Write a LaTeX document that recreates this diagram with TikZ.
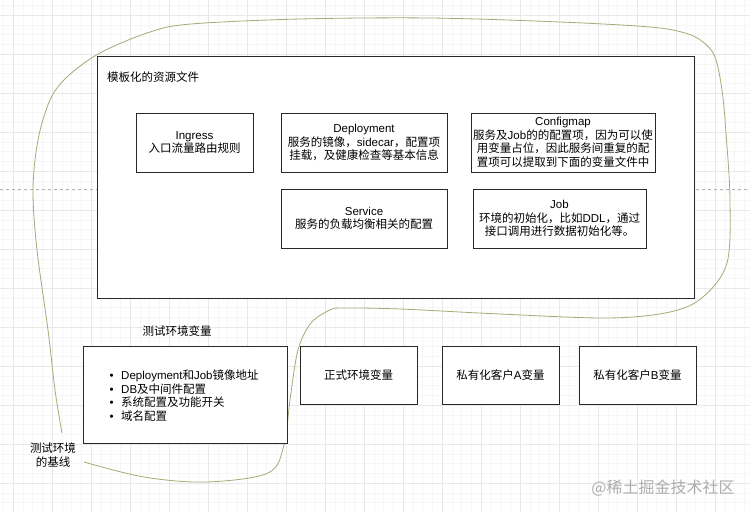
\documentclass[tikz,border=0pt]{standalone}
\usepackage{fontspec}
\setmainfont{Liberation Sans}
\newfontfamily\cjk{Noto Sans CJK SC}
\newcommand\zh[1]{{\cjk #1}}
\definecolor{loopcol}{RGB}{168,168,120}
\definecolor{boxline}{RGB}{40,40,40}
\begin{document}
\begin{tikzpicture}[x=1pt,y=-1pt,
  box/.style={draw=boxline, line width=1pt, fill=white, inner sep=0pt,
    font=\fontsize{11.5}{13.5}\selectfont, align=center},
  txt/.style={font=\fontsize{11.5}{13.5}\selectfont, align=center, inner sep=0pt},
  gridmajor/.style={draw=black!9, line width=0.5pt},
  gridminor/.style={draw=black!3.5, line width=0.4pt},
  pagebreak/.style={draw=black!30, line width=0.6pt, dash pattern=on 3pt off 3pt},
  loopline/.style={draw=loopcol, line width=0.8pt}]
\useasboundingbox (0,0) rectangle (750,512);
\fill[white] (0,0) rectangle (750,512);
% background grid
\foreach \x in {3.25,13,...,750} \draw[gridminor] (\x,0) -- (\x,512);
\foreach \y in {5.25,15,...,512} \draw[gridminor] (0,\y) -- (750,\y);
\foreach \x in {13,52,...,750} \draw[gridmajor] (\x,0) -- (\x,512);
\foreach \y in {15,54,...,512} \draw[gridmajor] (0,\y) -- (750,\y);
\draw[pagebreak] (0,189) -- (750,189);

% loop curve
\draw[loopline] plot[smooth, tension=0.55] coordinates {
 (62,433) (55,390) (48,330) (37,250) (33,190) (38,140) (50,100) (67,77) (100,53)
 (150,32) (191,24) (300,19) (430,18) (560,22) (650,27) (685,33) (703,42) (715,57)
 (722,90) (726,133) (730,200) (727,263) (703,297) (670,312) (608,318) (500,314) (400,309)
 (344,308) (330,310) (311,323) (298,350) (290,400) (284,445) (268,473) (206,482)
 (144,477) (84,462)};

% main template box
\node[box, line width=1.1pt, minimum width=597pt, minimum height=242pt, anchor=north west] (main) at (97,55.5) {};
\node[txt, anchor=west] (mainlabel) at (107,77) {\zh{模板化的资源文件}};

\node[box, minimum width=117pt, minimum height=59pt] (ingress) at (194.5,142.5)
  {Ingress\\\zh{入口流量路由规则}};
\node[box, minimum width=166pt, minimum height=59pt] (deploy) at (364,142.5)
  {Deployment\\\zh{服务的镜像，}sidecar\zh{，配置项}\\\zh{挂载，及健康检查等基本信息}};
\node[box, minimum width=184pt, minimum height=59pt] (configmap) at (563,142.5)
  {Configmap\\\zh{服务及}Job\zh{的的配置项，因为可以使}\\\zh{用变量占位，因此服务间重复的配}\\\zh{置项可以提取到下面的变量文件中}};
\node[box, minimum width=166pt, minimum height=59pt] (service) at (364,218.5)
  {Service\\\zh{服务的负载均衡相关的配置}};
\node[box, minimum width=173pt, minimum height=59pt] (job) at (559.5,218.5)
  {Job\\\zh{环境的初始化，比如}DDL\zh{，通过}\\\zh{接口调用进行数据初始化等。}};

% variable files
\node[txt] (testlabel) at (177,331) {\zh{测试环境变量}};
\node[box, minimum width=204pt, minimum height=97pt, anchor=north west] (testbox) at (83,346) {};
\node[txt, align=left, anchor=west] (testlist) at (109.5,395.5)
  {\textbullet\hspace{7.5pt}Deployment\zh{和}Job\zh{镜像地址}\\
   \textbullet\hspace{7.5pt}DB\zh{及中间件配置}\\
   \textbullet\hspace{7.5pt}\zh{系统配置及功能开关}\\
   \textbullet\hspace{7.5pt}\zh{域名配置}};
\node[box, minimum width=117pt, minimum height=58pt] (prod) at (358.5,375) {\zh{正式环境变量}};
\node[box, minimum width=117pt, minimum height=58pt] (custa) at (500.5,375) {\zh{私有化客户}A\zh{变量}};
\node[box, minimum width=117pt, minimum height=58pt] (custb) at (637.5,375) {\zh{私有化客户}B\zh{变量}};

\node[txt] (baseline) at (53,455) {\zh{测试环境}\\\zh{的基线}};

\node[inner sep=0pt, text=black!32, font=\cjk\fontsize{16}{16}\selectfont] (watermark) at (663,488) {@稀土掘金技术社区};
\end{tikzpicture}
\end{document}
